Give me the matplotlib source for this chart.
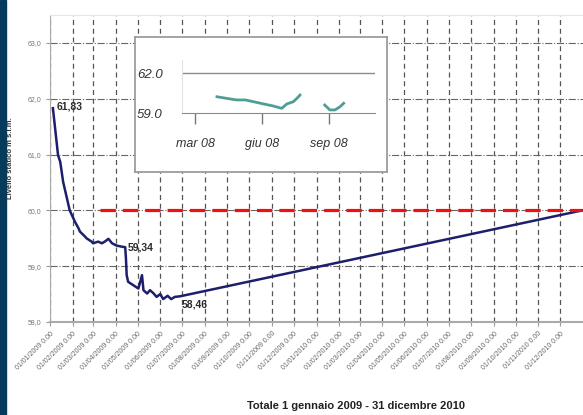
import numpy as np
import pandas as pd
import matplotlib
matplotlib.use('Agg')
import matplotlib.pyplot as plt
import matplotlib.dates as mdates
from matplotlib.patches import Rectangle

plt.rcParams['font.family'] = ['Liberation Sans', 'DejaVu Sans']

# livello statico 2009
main_dates = ['2009-01-05', '2009-01-06', '2009-01-08', '2009-01-12', '2009-01-15',
              '2009-01-17', '2009-01-19', '2009-01-28', '2009-02-04', '2009-02-09',
              '2009-02-11', '2009-02-18', '2009-02-20', '2009-02-27', '2009-03-01',
              '2009-03-08', '2009-03-13', '2009-03-17', '2009-03-22', '2009-03-27',
              '2009-04-02', '2009-04-09', '2009-04-14', '2009-04-15', '2009-04-16',
              '2009-04-18', '2009-04-25', '2009-05-02', '2009-05-04', '2009-05-07',
              '2009-05-09', '2009-05-14', '2009-05-18', '2009-05-23', '2009-05-27',
              '2009-06-01', '2009-06-05', '2009-06-11', '2009-06-16', '2009-06-21',
              '2009-06-28', '2010-12-31']
main_levels = [61.83, 61.71, 61.47, 60.99, 60.87,
               60.69, 60.51, 60.00, 59.80, 59.68,
               59.62, 59.53, 59.50, 59.44, 59.41,
               59.44, 59.41, 59.44, 59.49, 59.41,
               59.37, 59.35, 59.34, 59.14, 58.84,
               58.72, 58.66, 58.60, 58.69, 58.84,
               58.57, 58.51, 58.57, 58.51, 58.45,
               58.50, 58.41, 58.47, 58.41, 58.45,
               58.46, 60.00]

# valori evidenziati
labels = ['61,83', '59,34', '58,46']
label_dates = ['2009-01-05', '2009-04-14', '2009-06-28']
label_values = [61.83, 59.34, 58.46]

# soglia (linea rossa)
threshold = 60.0
threshold_start = '2009-03-10'
threshold_end = '2010-12-31'

yticks = [58.0, 59.0, 60.0, 61.0, 62.0, 63.0]

# riquadro 2008
inset_dates = ['2008-03-31', '2008-04-13', '2008-04-27', '2008-05-09', '2008-05-20',
               '2008-06-03', '2008-06-16', '2008-06-28', '2008-07-05', '2008-07-14',
               '2008-07-21', '2008-07-23', '2008-08-10', '2008-08-26', '2008-09-02',
               '2008-09-09', '2008-09-16', '2008-09-21']
inset_levels = [60.22, 60.10, 59.98, 59.98, 59.85,
                59.68, 59.53, 59.35, 59.68, 59.85,
                60.22, 60.35, np.nan, 59.60, 59.23,
                59.23, 59.47, 59.73]
inset_ticks = ['2008-03-01', '2008-06-01', '2008-09-01']
inset_ticklabels = ['mar 08', 'giu 08', 'sep 08']

W, H = 583, 415
fig = plt.figure(figsize=(W / 100, H / 100), dpi=100)
fig.patches.append(Rectangle((0, 0), 6 / W, 1, transform=fig.transFigure,
                             color='#073b5e', zorder=0))

ax = fig.add_axes([50 / W, 93 / H, 533 / W, 307 / H])
ax.set_xlim(pd.Timestamp('2009-01-01'), pd.Timestamp('2010-12-31 23:00'))
ax.set_ylim(58.0, 63.5)

ax.plot(pd.to_datetime(main_dates), main_levels, color='#1c1f6b', lw=1.8, zorder=3)
ax.plot(pd.to_datetime([threshold_start, threshold_end]), [threshold, threshold],
        color='#f01010', lw=2.3, dashes=(4.8, 2.2), zorder=4)

for t, d, v in zip(labels, label_dates, label_values):
    off = (1, -6) if t == '58,46' else (2.5, 1.5) if t == '61,83' else (2, 0)
    ax.annotate(t, (pd.Timestamp(d), v), xytext=off, textcoords='offset points',
                ha='left', va='center', fontsize=7.5, fontweight='bold', color='#2b2b2b')

ax.set_yticks(yticks)
ax.set_yticklabels([f'{v:.1f}'.replace('.', ',') for v in yticks])
ax.xaxis.set_major_locator(mdates.MonthLocator())
ax.xaxis.set_major_formatter(mdates.DateFormatter('%d/%m/%Y 0.00'))
plt.setp(ax.get_xticklabels(), rotation=45, ha='right', va='top',
         rotation_mode='anchor', fontsize=5, color='#666666')
ax.tick_params(axis='y', labelsize=5, labelcolor='#777777', length=3, width=0.8,
               color='#999999', pad=3)
ax.tick_params(axis='x', length=3, width=0.8, color='#999999', pad=3)

ax.grid(axis='x', color='#555555', lw=0.9, dashes=(4, 3))
ax.grid(axis='y', color='#666666', lw=0.8, linestyle='-.')
ax.set_axisbelow(True)
ax.spines['right'].set_visible(False)
ax.spines['top'].set_color('#e6e6e6')
ax.spines['left'].set_color('#aaaaaa')
ax.spines['bottom'].set_color('#aaaaaa')
ax.spines['bottom'].set_linewidth(1.5)

fig.text(11 / W, 1 - 158 / H, 'Livello statico m s.l.m.', rotation=90, ha='center',
         va='center', fontsize=5.5, fontweight='bold', color='#333333')
fig.text(356 / W, 1 - 406 / H, 'Totale 1 gennaio 2009 - 31 dicembre 2010',
         ha='center', va='center', fontsize=8, fontweight='bold', color='#222222')

# riquadro
box = fig.add_axes([135 / W, 1 - 172 / H, 252 / W, 135 / H])
box.set_xticks([])
box.set_yticks([])
box.set_facecolor('white')
for s in box.spines.values():
    s.set_color('#9c9c9c')
    s.set_linewidth(1.3)

ins = fig.add_axes([182 / W, 1 - 113 / H, 193 / W, 53.3 / H])
ins.patch.set_alpha(0)
ins.set_xlim(pd.Timestamp('2008-02-12'), pd.Timestamp('2008-11-03'))
ins.set_ylim(59.0, 63.0)
ins.plot(pd.to_datetime(inset_dates), inset_levels, color='#4f9e95', lw=2)
ins.axhline(62.0, color='#8a8a8a', lw=1)
ins.set_yticks([59.0, 62.0])
ins.set_yticklabels(['59.0', '62.0'], fontsize=9.5, style='italic', color='#333333')
ins.set_xticks(pd.to_datetime(inset_ticks))
ins.set_xticklabels(inset_ticklabels, fontsize=9, style='italic', color='#333333')
ins.tick_params(axis='y', length=0, pad=14)
ins.tick_params(axis='x', length=8, width=1, color='#777777', pad=10, direction='out')
for s in ['top', 'right']:
    ins.spines[s].set_visible(False)
ins.spines['left'].set_color('#e2e2e2')
ins.spines['bottom'].set_color('#8a8a8a')

fig.savefig('out.png', dpi=100)
